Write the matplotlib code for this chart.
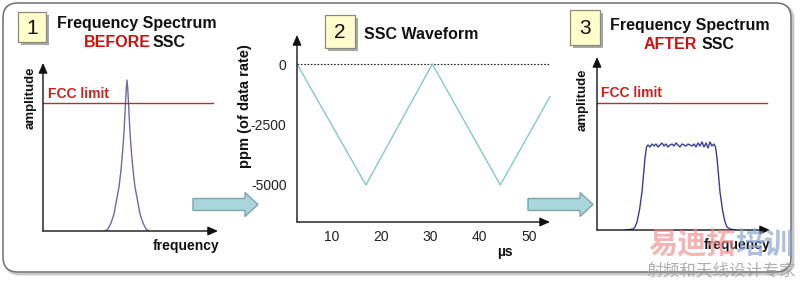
import matplotlib
matplotlib.use("Agg")
import matplotlib.pyplot as plt
from matplotlib.patches import FancyBboxPatch, Rectangle, Polygon

plt.rcParams['font.family'] = ['Liberation Sans', 'DejaVu Sans']

# ---------------- data ----------------
# Panel 1: spectrum before SSC (arbitrary units)
freq_before = [62, 65, 68, 71, 73, 76, 78, 79.5, 80.7, 81.7, 82.5, 83.3, 84,
               84.7, 85.5, 86.3, 87.3, 88.5, 90, 92, 95, 97, 100, 103, 106]
amp_before = [0, 2, 8, 17, 28, 44, 61, 78, 94, 112, 128, 143, 151,
              143, 128, 112, 94, 78, 61, 44, 28, 17, 8, 2, 0]
fcc_limit_1 = 128

# Panel 2: SSC triangular waveform
time_us = [2.9, 16.9, 30.4, 44.2, 54.3]
ppm = [0, -5000, 0, -5000, -1350]
ppm_ticks = [0, -2500, -5000]
time_ticks = [10, 20, 30, 40, 50]

# Panel 3: spectrum after SSC (arbitrary units)
freq_after = ([28, 33, 36, 38, 40, 42.5, 45, 46.5, 48, 49.5] +
              [51, 53, 55, 57, 59, 61, 63, 65, 67, 69, 71, 73, 75, 77, 79, 81, 83,
               85, 87, 89, 91, 93, 95, 97, 99, 101, 103, 105, 107, 109, 111, 113,
               115, 117] +
              [118.5, 120, 121.5, 123, 125.5, 128, 130, 133, 138])
amp_after = ([0, 0.5, 1, 3, 8, 20, 38, 55, 72, 83] +
             [85, 83, 86, 84, 86, 83, 85, 87, 84, 86, 83, 85, 86, 84, 87, 85, 83,
              86, 85, 84, 86, 85, 84, 86, 83, 87, 84, 88, 83, 87, 82, 88, 84, 86] +
             [83, 72, 55, 38, 20, 8, 3, 1, 0])
fcc_limit_3 = 127

# ---------------- figure ----------------
W, H = 800, 281
fig = plt.figure(figsize=(W / 100, H / 100), dpi=100, facecolor='white')

bg = fig.add_axes([0, 0, 1, 1], zorder=0)
bg.set_xlim(0, W)
bg.set_ylim(H, 0)
bg.axis('off')


def px_axes(x0, y0, x1, y1, z=2):
    ax = fig.add_axes([x0 / W, 1 - y1 / H, (x1 - x0) / W, (y1 - y0) / H], zorder=z)
    ax.patch.set_alpha(0)
    for s in ax.spines.values():
        s.set_visible(False)
    return ax


def arrow_axes(ax):
    kw = dict(arrowstyle='-|>,head_length=0.5,head_width=0.22', lw=1.0, color='#111111',
              shrinkA=0, shrinkB=0, mutation_scale=12)
    ax.annotate('', xy=(1, 0), xytext=(0, 0), xycoords='axes fraction',
                textcoords='axes fraction', arrowprops=kw, annotation_clip=False)
    ax.annotate('', xy=(0, 1), xytext=(0, 0), xycoords='axes fraction',
                textcoords='axes fraction', arrowprops=kw, annotation_clip=False)


# outer rounded frame
bg.add_patch(FancyBboxPatch((5, 5), 788, 269, boxstyle='round,pad=0,rounding_size=15',
                            fc='none', ec='#c8c8c8', lw=2.0))
bg.add_patch(FancyBboxPatch((3, 3), 788, 269, boxstyle='round,pad=0,rounding_size=15',
                            fc='white', ec='#6f6f6f', lw=1.1))


def number_box(x0, y0, x1, y1, txt):
    bg.add_patch(Rectangle((x0 + 2.5, y0 + 2.5), x1 - x0, y1 - y0, fc='#a8a8a8', ec='none'))
    bg.add_patch(Rectangle((x0, y0), x1 - x0, y1 - y0, fc='#ffffcc', ec='#8a8a7a', lw=0.9))
    bg.text((x0 + x1) / 2, (y0 + y1) / 2 + 1, txt, ha='center', va='center',
            fontsize=15, color='#111111')


number_box(18, 12, 46, 42, '1')
number_box(325, 15, 355, 48, '2')
number_box(570, 10, 600, 45, '3')

title_kw = dict(fontsize=11.5, fontweight='bold', color='#111111', va='baseline')
bg.text(137, 28, 'Frequency Spectrum', ha='center', **title_kw)
bg.text(84, 47, 'BEFORE', ha='left', **{**title_kw, 'color': '#cc1111'})
bg.text(153, 47, 'SSC', ha='left', **title_kw)
bg.text(421, 39, 'SSC Waveform', ha='center', **title_kw)
bg.text(690, 30, 'Frequency Spectrum', ha='center', **title_kw)
bg.text(644, 49, 'AFTER', ha='left', **{**title_kw, 'color': '#cc1111'})
bg.text(702, 49, 'SSC', ha='left', **title_kw)

# block arrows
for (xa, xh, xt) in [(193, 245, 258), (528, 580, 593)]:
    bg.add_patch(Polygon([(xa, 198.5), (xh, 198.5), (xh, 192.5), (xt, 204.5), (xh, 216.5),
                          (xh, 210.5), (xa, 210.5)], closed=True,
                         fc='#a8d6da', ec='#7fa4a9', lw=1.0))

lab_kw = dict(fontsize=10, fontweight='bold', color='#111111')

# ---------------- panel 1 ----------------
ax1 = px_axes(43, 63, 218, 231)
ax1.set_xlim(0, 175)
ax1.set_ylim(0, 168)
ax1.set_xticks([])
ax1.set_yticks([])
arrow_axes(ax1)
ax1.plot(freq_before, amp_before, color='#6b6ba6', lw=1.0)
ax1.plot([0, 170], [fcc_limit_1, fcc_limit_1], color='#9e3a3a', lw=1.0)
ax1.text(5, fcc_limit_1 + 9, 'FCC limit', ha='left', va='center', fontsize=10,
         fontweight='bold', color='#cc1f1f')
bg.text(31, 98, 'amplitude', rotation=90, ha='center', va='center', fontsize=9.5,
        fontweight='bold', color='#111111')
bg.text(186, 246, 'frequency', ha='center', va='center', **lab_kw)

# ---------------- panel 2 ----------------
ax2 = px_axes(297, 35, 550, 222)
ax2.set_xlim(2.9, 54.3)
ax2.set_ylim(-6530, 1200)
arrow_axes(ax2)
ax2.axhline(0, color='#222222', lw=0.8, ls=(0, (1.5, 1.5)))
ax2.plot(time_us, ppm, color='#86c9bd', lw=1.0, clip_on=False)
ax2.set_yticks(ppm_ticks)
ax2.set_yticklabels([str(v) for v in ppm_ticks])
ax2.set_xticks(time_ticks)
ax2.set_xticklabels([str(v) for v in time_ticks])
ax2.tick_params(axis='y', length=0, pad=7.5, labelsize=10, labelcolor='#222222')
ax2.tick_params(axis='x', length=0, pad=5.5, labelsize=10, labelcolor='#222222')
bg.text(245, 106, 'ppm (of data rate)', rotation=90, ha='center', va='center',
        fontsize=10.5, fontweight='bold', color='#111111')
bg.text(505, 252, 'µs', ha='center', va='center', **lab_kw)

# ---------------- panel 3 ----------------
ax3 = px_axes(597, 57, 770, 230)
ax3.set_xlim(0, 173)
ax3.set_ylim(0, 173)
ax3.set_xticks([])
ax3.set_yticks([])
arrow_axes(ax3)
ax3.plot(freq_after, amp_after, color='#3b3b98', lw=1.0)
ax3.plot([0, 170], [fcc_limit_3, fcc_limit_3], color='#9e3a3a', lw=1.0)
ax3.text(4, fcc_limit_3 + 10, 'FCC limit', ha='left', va='center', fontsize=10,
         fontweight='bold', color='#cc1f1f')
bg.text(583, 100, 'amplitude', rotation=90, ha='center', va='center', fontsize=9.5,
        fontweight='bold', color='#111111')
bg.text(737, 245, 'frequency', ha='center', va='center', **lab_kw)

# ---------------- watermark ----------------
wm = fig.add_axes([0, 0, 1, 1], zorder=5)
wm.set_xlim(0, W)
wm.set_ylim(H, 0)
wm.axis('off')
cjk = ['Noto Sans CJK SC', 'DejaVu Sans']
wm.text(648, 244, '易迪拓', ha='left', va='center', fontsize=21, fontweight='bold',
        color='#f08c8c', alpha=0.65, family=cjk)
wm.text(735, 244, '培训', ha='left', va='center', fontsize=21, fontweight='bold',
        color='#8aa6cf', alpha=0.7, family=cjk)
wm.text(647, 271, '射频和天线设计专家', ha='left', va='center', fontsize=12,
        color='#9a9a9a', alpha=0.8, family=cjk)

fig.savefig('out.png', dpi=100, facecolor='white')
